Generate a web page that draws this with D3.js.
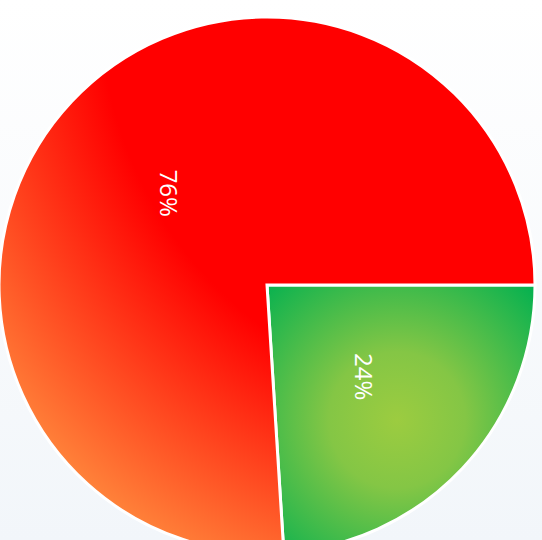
<!DOCTYPE html>
<html>
<head>
<meta charset="utf-8">
<script src="https://cdn.jsdelivr.net/npm/d3@7"></script>
<style>
  html, body { margin: 0; padding: 0; }
  body { width: 542px; height: 540px; overflow: hidden; }
</style>
</head>
<body>
<svg id="chart" width="542" height="540"></svg>
<script>
// Share of each part, drawn clockwise from 3 o'clock
const categories = ["B", "A"];
const values = [24, 76];
const labels = ["24%", "76%"];

const width = 542, height = 540;
const cx = 267, cy = 285, radius = 268;

const svg = d3.select("#chart");
const defs = svg.append("defs");

// page background: faint vertical wash
const bg = defs.append("linearGradient").attr("id", "bg")
  .attr("x1", 0).attr("y1", 0).attr("x2", 0).attr("y2", 1);
bg.append("stop").attr("offset", "0%").attr("stop-color", "#ffffff");
bg.append("stop").attr("offset", "100%").attr("stop-color", "#f2f6fa");
svg.append("rect").attr("width", width).attr("height", height).attr("fill", "url(#bg)");

// gradient coordinates below are relative to the pie centre
// red slice: radial from the upper-right corner, red turning orange far away
const redGrad = defs.append("radialGradient").attr("id", "redGrad")
  .attr("gradientUnits", "userSpaceOnUse")
  .attr("cx", 233).attr("cy", -280).attr("r", 650)
  .attr("fx", 233).attr("fy", -280);
redGrad.append("stop").attr("offset", "0%").attr("stop-color", "#ff0000");
redGrad.append("stop").attr("offset", "61.5%").attr("stop-color", "#ff0000");
redGrad.append("stop").attr("offset", "100%").attr("stop-color", "#ff8c3e");

// green slice: yellow-green glow fading to deep green at the edges
const greenGrad = defs.append("radialGradient").attr("id", "greenGrad")
  .attr("gradientUnits", "userSpaceOnUse")
  .attr("cx", 130).attr("cy", 135).attr("r", 195)
  .attr("fx", 130).attr("fy", 135);
greenGrad.append("stop").attr("offset", "0%").attr("stop-color", "#9ccc40");
greenGrad.append("stop").attr("offset", "35%").attr("stop-color", "#84c645");
greenGrad.append("stop").attr("offset", "100%").attr("stop-color", "#00b050");

const fills = { A: "url(#redGrad)", B: "url(#greenGrad)" };

const data = categories.map((c, i) => ({ category: c, value: values[i], label: labels[i] }));

const pie = d3.pie()
  .value(d => d.value)
  .sort(null)
  .startAngle(Math.PI / 2)
  .endAngle(Math.PI / 2 + 2 * Math.PI);

const arc = d3.arc().innerRadius(0).outerRadius(radius);
const labelArc = d3.arc().innerRadius(radius * 0.5).outerRadius(radius * 0.5);

const g = svg.append("g").attr("transform", `translate(${cx},${cy})`);
const arcs = pie(data);

g.selectAll("path.slice")
  .data(arcs)
  .join("path")
  .attr("class", "slice")
  .attr("d", arc)
  .attr("fill", d => fills[d.data.category])
  .attr("stroke", "#ffffff")
  .attr("stroke-width", 3)
  .attr("stroke-linejoin", "miter");

g.selectAll("text.label")
  .data(arcs)
  .join("text")
  .attr("class", "label")
  .attr("transform", d => {
    const [x, y] = labelArc.centroid(d);
    return `translate(${x},${y}) rotate(90)`;
  })
  .attr("text-anchor", "middle")
  .attr("dominant-baseline", "central")
  .attr("fill", "#ffffff")
  .attr("font-family", "'Open Sans', 'DejaVu Sans', sans-serif")
  .attr("font-size", 24)
  .text(d => d.data.label);
</script>
</body>
</html>
